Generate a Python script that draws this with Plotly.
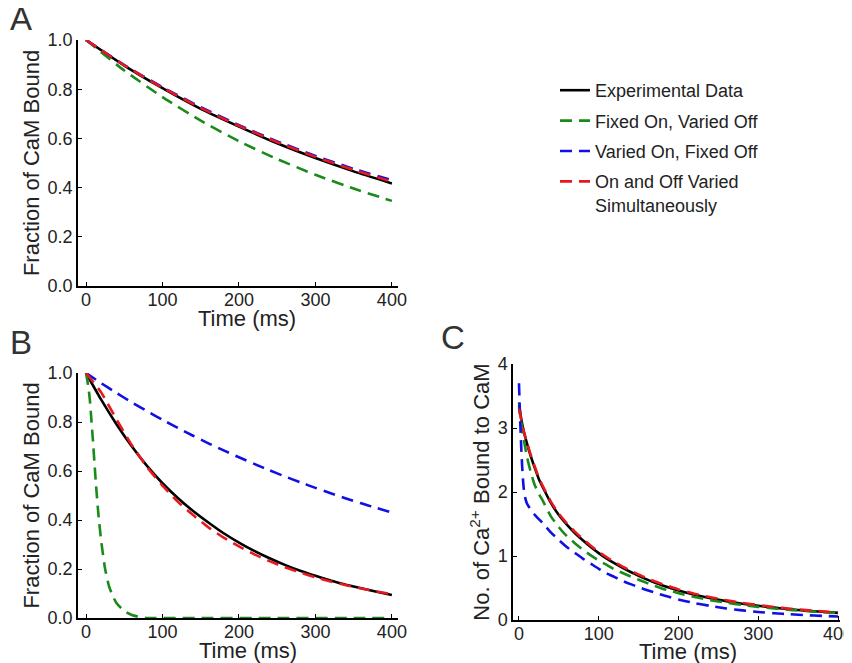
import plotly.graph_objects as go

# ---- panel A: fraction of CaM bound (fit to set 1) ----
t_a = [0, 50, 100, 150, 200, 250, 300, 350, 400]
a_exp = [1.0, 0.896, 0.804, 0.720, 0.648, 0.580, 0.520, 0.466, 0.417]
a_fixed_on = [1.0, 0.876, 0.768, 0.672, 0.588, 0.516, 0.452, 0.396, 0.346]
a_fixed_off = [1.0, 0.898, 0.808, 0.727, 0.654, 0.588, 0.529, 0.476, 0.430]
a_both = [1.0, 0.897, 0.806, 0.724, 0.651, 0.585, 0.525, 0.472, 0.424]

# ---- panel B: fraction of CaM bound (fit to set 2) ----
t_b = [0, 20, 40, 60, 80, 100, 120, 140, 160, 180, 200,
       220, 240, 260, 280, 300, 320, 340, 360, 380, 400]
b_exp = [1.0, 0.89, 0.79, 0.70, 0.62, 0.55, 0.49, 0.437, 0.39, 0.346, 0.308,
         0.274, 0.244, 0.217, 0.193, 0.172, 0.153, 0.136, 0.121, 0.107, 0.094]
b_both = [1.0, 0.92, 0.81, 0.705, 0.615, 0.54, 0.475, 0.42, 0.37, 0.328, 0.292,
          0.26, 0.232, 0.207, 0.186, 0.166, 0.149, 0.134, 0.12, 0.108, 0.097]
b_fixed_off = [1.0, 0.958, 0.918, 0.880, 0.844, 0.809, 0.776, 0.744, 0.713, 0.684, 0.656,
               0.629, 0.603, 0.578, 0.554, 0.531, 0.509, 0.488, 0.468, 0.449, 0.430]
t_b_green = [0, 3, 5, 7, 9, 11, 13, 16, 20, 25, 30, 35, 40, 50, 60, 70, 80, 150, 250, 350, 400]
b_fixed_on = [1.0, 0.945, 0.89, 0.81, 0.725, 0.635, 0.545, 0.43, 0.31, 0.20, 0.13, 0.09,
              0.06, 0.028, 0.012, 0.004, 0.0, 0.0, 0.0, 0.0, 0.0]

# ---- panel C: number of Ca2+ bound to CaM ----
t_c = [0, 5, 10, 15, 20, 25, 30, 40, 50, 60, 70, 80, 90, 100, 110, 120, 130, 140, 150,
       160, 170, 180, 190, 200, 220, 240, 260, 280, 300, 320, 340, 360, 380, 400]
c_exp = [3.35, 3.00, 2.76, 2.55, 2.37, 2.20, 2.07, 1.83, 1.64, 1.49, 1.36, 1.245, 1.14,
         1.045, 0.96, 0.885, 0.815, 0.75, 0.69, 0.635, 0.585, 0.54, 0.50, 0.46, 0.395,
         0.34, 0.295, 0.255, 0.222, 0.193, 0.168, 0.147, 0.128, 0.112]
c_both = [3.30, 3.00, 2.77, 2.57, 2.39, 2.22, 2.09, 1.85, 1.66, 1.51, 1.38, 1.265, 1.16,
          1.065, 0.98, 0.905, 0.835, 0.77, 0.71, 0.655, 0.605, 0.56, 0.518, 0.478, 0.41,
          0.355, 0.308, 0.267, 0.233, 0.203, 0.177, 0.155, 0.135, 0.118]
c_fixed_on = [3.40, 2.90, 2.55, 2.30, 2.10, 1.97, 1.86, 1.62, 1.45, 1.31, 1.20, 1.10, 1.01,
              0.93, 0.86, 0.79, 0.735, 0.68, 0.63, 0.58, 0.535, 0.49, 0.455, 0.42, 0.36,
              0.31, 0.27, 0.235, 0.205, 0.18, 0.158, 0.14, 0.123, 0.108]
t_c_blue = [0, 1, 2, 3, 4, 5, 6, 8, 10, 15, 20, 30, 40, 50, 60, 70, 80, 90, 100, 110,
            120, 130, 140, 150, 160, 170, 180, 190, 200, 220, 240, 260, 280, 300, 320,
            340, 360, 380, 400]
c_fixed_off = [3.70, 3.30, 2.95, 2.65, 2.40, 2.20, 2.05, 1.90, 1.82, 1.72, 1.64, 1.51,
               1.37, 1.25, 1.14, 1.05, 0.96, 0.88, 0.80, 0.73, 0.67, 0.61, 0.56, 0.515,
               0.47, 0.43, 0.39, 0.355, 0.32, 0.265, 0.22, 0.18, 0.15, 0.125, 0.105,
               0.09, 0.075, 0.065, 0.055]

names = ["Experimental Data", "Fixed On, Varied Off", "Varied On, Fixed Off",
         "On and Off Varied<br>Simultaneously"]
colors = ["#000000", "#1a8a1a", "#1010e6", "#e8191c"]
dashes = ["solid", "12px,7px", "12px,7px", "12px,7px"]

panels = [
    ("x", "y", [(t_a, a_exp), (t_a, a_fixed_on), (t_a, a_fixed_off), (t_a, a_both)]),
    ("x2", "y2", [(t_b, b_exp), (t_b_green, b_fixed_on), (t_b, b_fixed_off), (t_b, b_both)]),
    ("x3", "y3", [(t_c, c_exp), (t_c, c_fixed_on), (t_c_blue, c_fixed_off), (t_c, c_both)]),
]

# the page body adds an 8px margin, so the figure is 8px smaller each way
W, H, OFF = 844, 655, 8


def px(x):
    return (x - OFF) / W


def py(y):
    return 1 - (y - OFF) / H


fig = go.Figure()
for p, (xa, ya, series) in enumerate(panels):
    for i, (tx, vy) in enumerate(series):
        fig.add_trace(go.Scatter(
            x=tx, y=vy, xaxis=xa, yaxis=ya, mode="lines",
            line=dict(color=colors[i], width=2.6, dash=dashes[i], shape="spline", smoothing=0.5),
            name=names[i], legendgroup=names[i], showlegend=(p == 0),
        ))

font = "Arial, Liberation Sans, sans-serif"
title_font = dict(size=22, color="#222", family=font)
axis = dict(showline=True, linecolor="black", linewidth=1.5, showgrid=False, zeroline=False,
            automargin=False, ticks="inside", ticklen=4, tickwidth=1.3, tickcolor="black",
            tickfont=dict(size=18, color="#222", family=font))
xt = dict(axis, tickvals=[0, 100, 200, 300, 400], ticklabelstandoff=-3,
          ticklabeloverflow="allow")
yfrac = dict(axis, range=[0, 1], tickvals=[0, 0.2, 0.4, 0.6, 0.8, 1.0], tickformat=".1f",
             title=dict(text="Fraction of CaM Bound", standoff=2, font=title_font))

labels = []
for text, x, y in [("A", 8, 19), ("B", 8, 342), ("C", 439, 338)]:
    labels.append(dict(text=text, x=px(x), y=py(y), xref="paper", yref="paper", xanchor="left",
                       yanchor="middle", showarrow=False,
                       font=dict(size=33, color="#333", family=font)))
for x, y in [(247, 318), (248, 650), (688, 651)]:
    labels.append(dict(text="Time (ms)", x=px(x), y=py(y), xref="paper", yref="paper",
                       xanchor="center", yanchor="middle", showarrow=False, font=title_font))

fig.update_layout(
    template="none",
    width=W, height=H,
    margin=dict(l=0, r=0, t=0, b=0),
    plot_bgcolor="white", paper_bgcolor="white",
    xaxis=dict(xt, domain=[px(78), px(398)], range=[-10.5, 408], anchor="y"),
    yaxis=dict(yfrac, domain=[py(286), py(40)], anchor="x"),
    xaxis2=dict(xt, domain=[px(78), px(398)], range=[-10.5, 408], anchor="y2"),
    yaxis2=dict(yfrac, domain=[py(618), py(373)], anchor="x2"),
    xaxis3=dict(xt, domain=[px(513), px(840)], range=[-7.5, 402.5], anchor="y3"),
    yaxis3=dict(axis, domain=[py(620), py(364)], range=[0, 4], tickvals=[0, 1, 2, 3, 4], anchor="x3",
                title=dict(text="No. of Ca<sup>2+</sup> Bound to CaM", standoff=2, font=title_font)),
    legend=dict(x=px(555), y=py(72), xanchor="left", yanchor="top", valign="top",
                font=dict(size=18, color="#222", family=font), tracegroupgap=4,
                bgcolor="rgba(0,0,0,0)"),
    annotations=labels,
)

fig.write_html("out.html")
